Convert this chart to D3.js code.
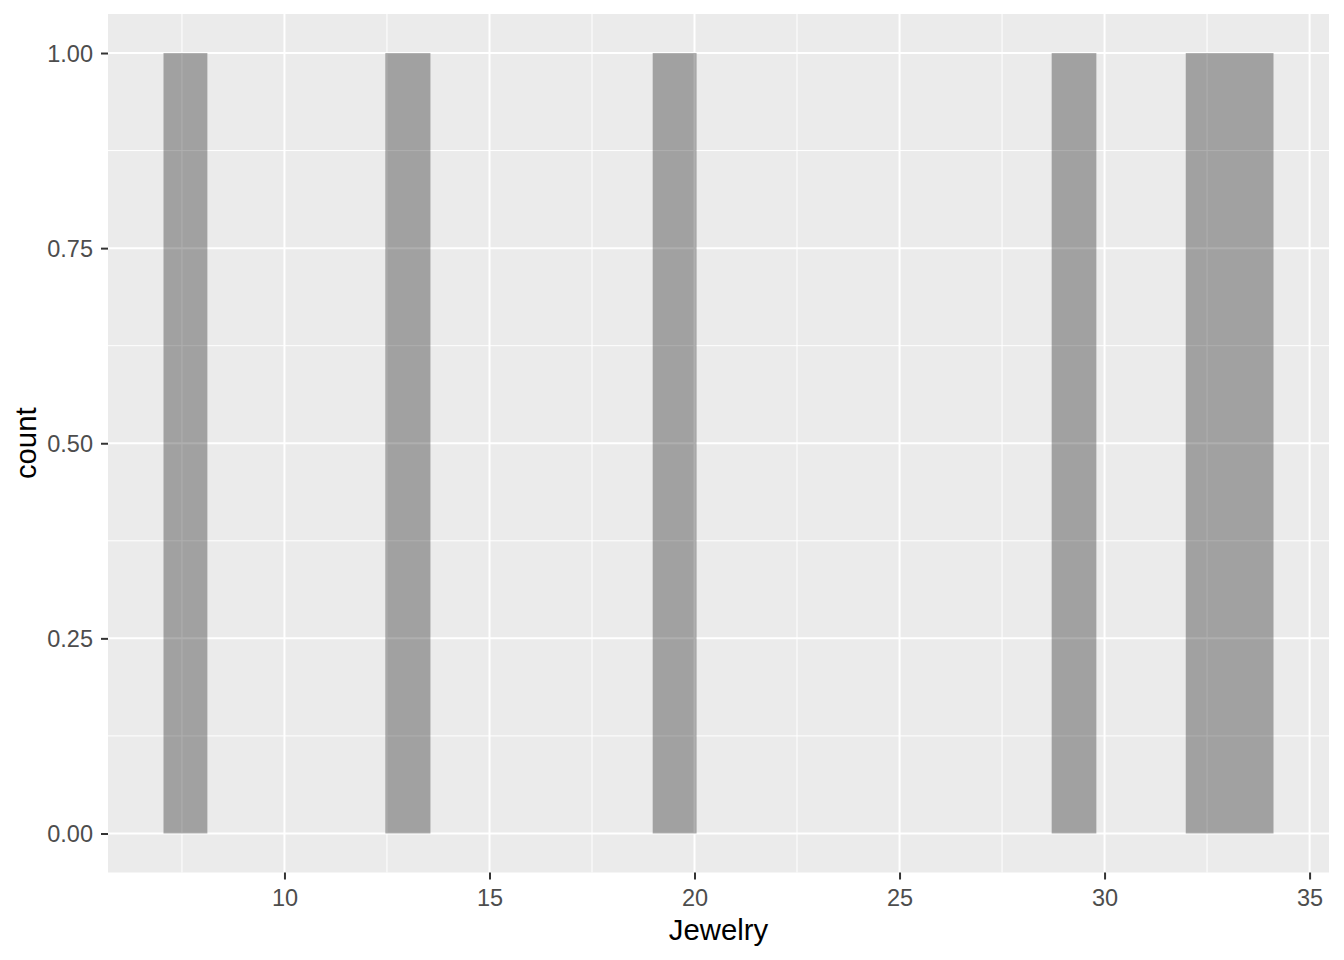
<!DOCTYPE html>
<html>
<head>
<meta charset="utf-8">
<script src="https://cdn.jsdelivr.net/npm/d3@7"></script>
<style>
  html, body { margin: 0; padding: 0; background: #ffffff; }
  svg { display: block; }
</style>
</head>
<body>
<svg id="chart" width="1344" height="960"></svg>
<script>
// Histogram bins of "Jewelry"
const binStart = [7.05, 12.46, 18.98, 28.71, 31.98];
const binEnd   = [8.12, 13.56, 20.05, 29.80, 34.12];
const counts   = [1, 1, 1, 1, 1];
const xTicks = [10, 15, 20, 25, 30, 35];
const yTicks = [0, 0.25, 0.5, 0.75, 1];
const yTickLabels = ["0.00", "0.25", "0.50", "0.75", "1.00"];
const xTitle = "Jewelry";
const yTitle = "count";

const bins = binStart.map((s, i) => ({ x0: s, x1: binEnd[i], n: counts[i] }));

const W = 1344, H = 960;
const panel = { left: 108, right: 1329, top: 14, bottom: 872.5 };

const xmin = d3.min(binStart), xmax = d3.max(binEnd);
const xpad = (xmax - xmin) * 0.05;
const ymax = d3.max(counts);
const ypad = ymax * 0.05;

const x = d3.scaleLinear().domain([xmin - xpad, xmax + xpad]).range([panel.left, panel.right]);
const y = d3.scaleLinear().domain([0 - ypad, ymax + ypad]).range([panel.bottom, panel.top]);

const svg = d3.select("#chart");
const font = "'Liberation Sans', Arial, Helvetica, sans-serif";

// panel background
svg.append("rect")
  .attr("x", panel.left).attr("y", panel.top)
  .attr("width", panel.right - panel.left).attr("height", panel.bottom - panel.top)
  .attr("fill", "#ebebeb");

const g = svg.append("g");

// minor gridlines
const xMinor = xTicks.slice(0, -1).map((t, i) => (t + xTicks[i + 1]) / 2);
xMinor.unshift(xTicks[0] - 2.5);
const yMinor = yTicks.slice(0, -1).map((t, i) => (t + yTicks[i + 1]) / 2);

g.selectAll(".xminor").data(xMinor.filter(v => x(v) > panel.left && x(v) < panel.right)).enter()
  .append("line")
  .attr("x1", d => x(d)).attr("x2", d => x(d))
  .attr("y1", panel.top).attr("y2", panel.bottom)
  .attr("stroke", "#ffffff").attr("stroke-width", 1);
g.selectAll(".yminor").data(yMinor).enter()
  .append("line")
  .attr("y1", d => y(d)).attr("y2", d => y(d))
  .attr("x1", panel.left).attr("x2", panel.right)
  .attr("stroke", "#ffffff").attr("stroke-width", 1);

// major gridlines
g.selectAll(".xmajor").data(xTicks).enter()
  .append("line")
  .attr("x1", d => x(d)).attr("x2", d => x(d))
  .attr("y1", panel.top).attr("y2", panel.bottom)
  .attr("stroke", "#ffffff").attr("stroke-width", 2);
g.selectAll(".ymajor").data(yTicks).enter()
  .append("line")
  .attr("y1", d => y(d)).attr("y2", d => y(d))
  .attr("x1", panel.left).attr("x2", panel.right)
  .attr("stroke", "#ffffff").attr("stroke-width", 2);

// bars
svg.append("g").selectAll("rect").data(bins).enter()
  .append("rect")
  .attr("x", d => x(d.x0))
  .attr("width", d => x(d.x1) - x(d.x0))
  .attr("y", d => y(d.n))
  .attr("height", d => y(0) - y(d.n))
  .attr("fill", "#000000")
  .attr("fill-opacity", 0.315);

// axes
const xAxis = d3.axisBottom(x).tickValues(xTicks).tickSize(7).tickPadding(5).tickFormat(d3.format("d"));
const yAxis = d3.axisLeft(y).tickValues(yTicks).tickSize(7).tickPadding(5).tickFormat((d, i) => yTickLabels[i]);

const gx = svg.append("g").attr("transform", `translate(0,${panel.bottom})`).call(xAxis);
const gy = svg.append("g").attr("transform", `translate(${panel.left},0)`).call(yAxis);

[gx, gy].forEach(a => {
  a.select(".domain").remove();
  a.selectAll(".tick line").attr("stroke", "#333333").attr("stroke-width", 2);
  a.selectAll(".tick text")
    .attr("fill", "#4d4d4d")
    .style("font-family", font)
    .style("font-size", "23.5px");
});
gx.selectAll(".tick text").attr("dy", "0.71em").attr("y", 17);
gy.selectAll(".tick text").attr("x", -15).attr("dy", "0.36em");

// axis titles
svg.append("text")
  .attr("x", (panel.left + panel.right) / 2)
  .attr("y", 940)
  .attr("text-anchor", "middle")
  .attr("fill", "#000000")
  .style("font-family", font)
  .style("font-size", "29.3px")
  .text(xTitle);

svg.append("text")
  .attr("transform", `translate(36,${(panel.top + panel.bottom) / 2}) rotate(-90)`)
  .attr("text-anchor", "middle")
  .attr("fill", "#000000")
  .style("font-family", font)
  .style("font-size", "29.3px")
  .text(yTitle);
</script>
</body>
</html>
